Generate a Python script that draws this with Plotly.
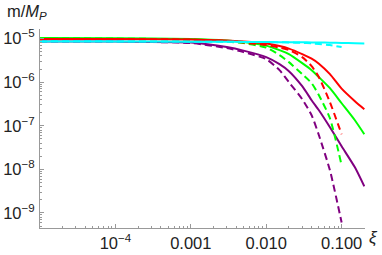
import plotly.graph_objects as go

xi_full = [1e-5, 1e-4, 1e-3, 0.003, 0.005, 0.01, 0.015, 0.02, 0.03, 0.04, 0.05, 0.07, 0.1, 0.15, 0.2]
xi_dash = [1e-5, 1e-4, 1e-3, 0.003, 0.005, 0.01, 0.015, 0.02, 0.03, 0.04, 0.05, 0.07, 0.1]

# log10(m/M_P) values
red_solid = [-5.011, -5.011, -5.023, -5.046, -5.069, -5.115, -5.172, -5.23, -5.356, -5.46, -5.575, -5.816, -6.149, -6.437, -6.62]
red_dash = [-5.011, -5.011, -5.023, -5.057, -5.092, -5.149, -5.207, -5.264, -5.425, -5.632, -5.885, -6.46, -7.195]
green_solid = [-4.989, -4.993, -5.011, -5.046, -5.08, -5.161, -5.264, -5.356, -5.563, -5.724, -5.885, -6.138, -6.483, -6.874, -7.195]
green_dash = [-4.989, -4.999, -5.023, -5.069, -5.103, -5.207, -5.379, -5.54, -5.816, -6.023, -6.299, -6.828, -7.908]
purple_solid = [-5.069, -5.069, -5.092, -5.195, -5.276, -5.425, -5.586, -5.747, -6.092, -6.414, -6.644, -7.034, -7.471, -7.954, -8.391]
purple_dash = [-5.069, -5.069, -5.103, -5.218, -5.31, -5.471, -5.724, -6.0, -6.391, -6.759, -7.218, -8.023, -9.218]
cyan_solid = [-5.064, -5.064, -5.07, -5.074, -5.076, -5.08, -5.082, -5.083, -5.085, -5.088, -5.09, -5.095, -5.1, -5.106, -5.11]
cyan_dash = [-5.064, -5.064, -5.07, -5.074, -5.076, -5.08, -5.084, -5.088, -5.098, -5.11, -5.126, -5.149, -5.195]

x_tickvals = [1e-4, 1e-3, 1e-2, 1e-1]
x_ticktext = ["10<sup>\u22124</sup>", "0.001", "0.010", "0.100"]
y_tickvals = [1e-9, 1e-8, 1e-7, 1e-6, 1e-5]
y_ticktext = ["10<sup>\u22129</sup>", "10<sup>\u22128</sup>", "10<sup>\u22127</sup>", "10<sup>\u22126</sup>", "10<sup>\u22125</sup>"]

RED = "#FF0000"
GREEN = "#00FF00"
PURPLE = "#800080"
CYAN = "#00FFFF"
DASH = "7px,4px"

series = [
    (xi_dash, purple_dash, PURPLE, DASH),
    (xi_full, purple_solid, PURPLE, "solid"),
    (xi_dash, green_dash, GREEN, DASH),
    (xi_full, green_solid, GREEN, "solid"),
    (xi_dash, red_dash, RED, DASH),
    (xi_full, red_solid, RED, "solid"),
    (xi_dash, cyan_dash, CYAN, DASH),
    (xi_full, cyan_solid, CYAN, "solid"),
]

fig = go.Figure()
for xs, ys, col, dash in series:
    fig.add_trace(go.Scatter(
        x=xs, y=[10 ** v for v in ys], mode="lines",
        line=dict(color=col, width=2, dash=dash, shape="spline", smoothing=0.6),
        showlegend=False, hoverinfo="skip"))

def minor_vals(lo, hi):
    out = []
    for d in range(lo, hi):
        for k in range(2, 10):
            out.append(k * 10 ** d)
    return out

axis_color = "#999999"
font = dict(family="Liberation Sans, Arial, sans-serif", size=16.5, color="#222222")

fig.update_xaxes(
    type="log", range=[-5, -0.69], automargin=False,
    showline=True, linecolor=axis_color, linewidth=1,
    showgrid=False, zeroline=False,
    ticks="inside", ticklen=4, tickcolor=axis_color,
    tickmode="array", tickvals=x_tickvals, ticktext=x_ticktext,
    tickfont=font,
    minor=dict(ticks="inside", ticklen=2, tickcolor=axis_color, tickmode="array",
               tickvals=minor_vals(-5, 0), showgrid=False),
)
fig.update_yaxes(
    type="log", range=[-9.345, -4.78], automargin=False,
    showline=True, linecolor=axis_color, linewidth=1,
    showgrid=False, zeroline=False,
    ticks="inside", ticklen=4, tickcolor=axis_color,
    tickmode="array", tickvals=y_tickvals, ticktext=y_ticktext,
    tickfont=font, ticklabelstandoff=1,
    minor=dict(ticks="inside", ticklen=2, tickcolor=axis_color, tickmode="array",
               tickvals=minor_vals(-10, -4), showgrid=False),
)

fig.update_layout(
    width=382, height=255, autosize=False,
    margin=dict(l=40, r=17, t=29, b=27, pad=0),
    plot_bgcolor="white", paper_bgcolor="white",
    font=font,
    hovermode=False,
    annotations=[
        dict(text="m/<i>M</i><sub><i>P</i></sub>", xref="paper", yref="paper",
             x=-0.108, y=1.085, xanchor="left", yanchor="middle", showarrow=False,
             font=font),
        dict(text="<i>\u03be</i>", xref="paper", yref="paper",
             x=1.045, y=-0.05, xanchor="right", yanchor="middle", showarrow=False,
             font=dict(family="Liberation Sans, Arial, sans-serif", size=17, color="#222222")),
    ],
)

# remove the browser's default 8px body margin so the figure sits at the page origin
fig.write_html("out.html", config={"displayModeBar": False},
               post_script="document.body.style.margin='0px';")
